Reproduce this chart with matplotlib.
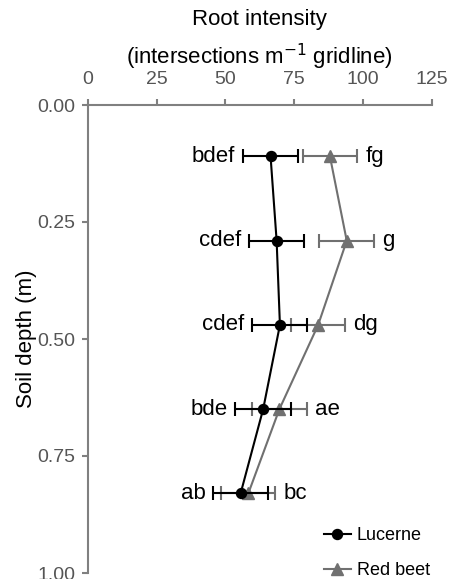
import matplotlib
matplotlib.use("Agg")
import matplotlib.pyplot as plt
from matplotlib.lines import Line2D

plt.rcParams['font.family'] = ['Liberation Sans', 'DejaVu Sans']

depth = [0.11, 0.29, 0.47, 0.65, 0.83]
lucerne = [66.4, 68.6, 69.8, 63.7, 55.5]
lucerne_err = [10.0, 10.0, 10.0, 10.1, 10.0]
redbeet = [88.0, 94.1, 83.7, 69.6, 58.3]
redbeet_err = [9.8, 10.0, 9.9, 10.0, 9.8]
lucerne_letters = ['bdef', 'cdef', 'cdef', 'bde', 'ab']
redbeet_letters = ['fg', 'g', 'dg', 'ae', 'bc']
xticks = [0, 25, 50, 75, 100, 125]
yticks = [0.00, 0.25, 0.50, 0.75, 1.00]

W, H = 450, 579
fig = plt.figure(figsize=(W / 100, H / 100), dpi=100)
ax = fig.add_axes([88 / W, 1 - 573 / H, (431.7 - 88) / W, (573 - 105) / H])

gray = '#707070'
ax.errorbar(lucerne, depth, xerr=lucerne_err, color='black', marker='o', ms=7.2,
            lw=1.5, capsize=4.7, capthick=1.5, elinewidth=1.5, zorder=3)
ax.errorbar(redbeet, depth, xerr=redbeet_err, color=gray, marker='^', ms=8,
            lw=1.5, capsize=4.7, capthick=1.5, elinewidth=1.5, zorder=2)

for x, e, y, t in zip(lucerne, lucerne_err, depth, lucerne_letters):
    ax.text(x - e - 2.8, y, t, ha='right', va='center', fontsize=16, color='black')
for x, e, y, t in zip(redbeet, redbeet_err, depth, redbeet_letters):
    ax.text(x + e + 3, y, t, ha='left', va='center', fontsize=16, color='black')

ax.set_xlim(0, 125)
ax.set_ylim(1.0, 0.0)
ax.set_xticks(xticks)
ax.set_yticks(yticks)
ax.set_yticklabels([f'{v:.2f}' for v in yticks])
ax.xaxis.tick_top()
ax.set_ylabel('Soil depth (m)', fontsize=16)
ax.yaxis.set_label_coords(-0.148, 0.5)
for s in ['bottom', 'right']:
    ax.spines[s].set_visible(False)
for s in ['top', 'left']:
    ax.spines[s].set_color('#808080')
    ax.spines[s].set_linewidth(1.5)
ax.tick_params(colors='#808080', labelcolor='#555555', labelsize=14, width=1.5,
               length=4)
ax.tick_params(axis='x', pad=8)
ax.tick_params(axis='y', pad=5)

cx = (88 + 431.7) / 2 / W
fig.text(cx, 1 - 20 / H, 'Root intensity', ha='center', va='center', fontsize=16)
fig.text(cx, 1 - 57 / H, '(intersections m$^{-1}$ gridline)', ha='center',
         va='center', fontsize=16)

handles = [Line2D([], [], color='black', marker='o', ms=7.2, lw=1.5),
           Line2D([], [], color=gray, marker='^', ms=8, lw=1.5)]
ax.legend(handles, ['Lucerne', 'Red beet'], loc='lower right', frameon=False,
          fontsize=13, handlelength=1.5, handletextpad=0.33, labelspacing=0.985,
          borderaxespad=0.0, bbox_to_anchor=(1.0154, -0.0285))

fig.savefig('out.png', dpi=100)
